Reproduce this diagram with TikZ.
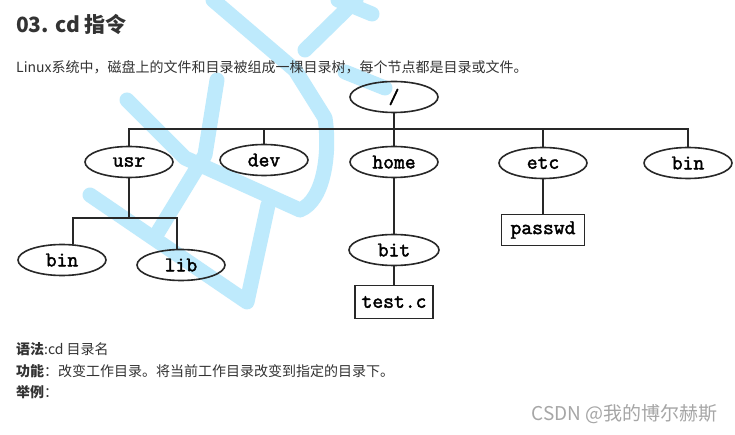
\documentclass[tikz,border=0pt]{standalone}
\usepackage{fontspec}
\setmainfont{Noto Sans CJK SC}
\newfontfamily\treefont{Latin Modern Mono}[FakeBold=2]
\usetikzlibrary{shapes.geometric,positioning}
\definecolor{wmblue}{RGB}{190,234,252}
\definecolor{inkgray}{RGB}{40,40,40}
\definecolor{bodytext}{RGB}{51,51,51}

\begin{document}
\begin{tikzpicture}[
  x=1pt, y=1pt,
  body/.style={anchor=base west, inner sep=0pt, text=bodytext, font=\fontsize{14}{17}\selectfont},
  wm/.style={draw=wmblue, line width=15pt, line cap=round, line join=round},
  dirnode/.style={ellipse, draw=inkgray, line width=1.6pt, minimum width=88pt,
                  minimum height=31pt, inner sep=0pt, font=\treefont\fontsize{21}{24}\selectfont},
  filebox/.style={rectangle, draw=inkgray, line width=1.6pt, minimum width=80pt,
                  minimum height=32pt, inner sep=0pt, font=\treefont\fontsize{21}{24}\selectfont},
  tline/.style={draw=inkgray, line width=1.7pt}
]
\useasboundingbox[fill=white] (0,0) rectangle (735,-435);

% watermark
\draw[wm] (127,-100) -- (185,-158) -- (300,-210) .. controls (325,-200) and (330,-150) .. (325,-118)
  -- (295,-70) -- (213,0);
\draw[wm] (217,-80) -- (205,-155) -- (155,-237);
\draw[wm] (90,-195) -- (247,-302) -- (268,-205);
\draw[wm] (356,0) -- (305,-50);
\draw[wm] (338,0) -- (372,-14);
\draw[wm] (345,-72) -- (385,-88);

% text
\node[body, font=\bfseries\fontsize{21}{25}\selectfont] (title) at (16,-33) {03. cd 指令};
\node[body] (intro) at (16,-73) {Linux系统中，磁盘上的文件和目录被组成一棵目录树，每个节点都是目录或文件。};
\node[body] (syntax) at (16,-354) {\textbf{语法}:cd 目录名};
\node[body] (func) at (16,-376) {\textbf{功能}：改变工作目录。将当前工作目录改变到指定的目录下。};
\node[body] (example) at (16,-397) {\textbf{举例}：};
\node[anchor=base east, inner sep=0pt, text=black!35, font=\fontsize{19}{22}\selectfont] (csdn) at (718,-420) {CSDN @我的博尔赫斯};

% tree
\node[dirnode] (root) at (394,-97) {/};
\node[dirnode] (usr) at (129,-162) {usr};
\node[dirnode] (dev) at (264,-160) {dev};
\node[dirnode] (home) at (394,-162) {home};
\node[dirnode] (etc) at (543,-163) {etc};
\node[dirnode] (bin) at (688,-163) {bin};
\node[dirnode] (ubin) at (62,-260) {bin};
\node[dirnode] (lib) at (181,-265) {lib};
\node[dirnode, minimum width=90pt] (bit) at (394,-250) {bit};
\node[filebox, minimum width=78pt, minimum height=33pt] (testc) at (394,-302) {test.c};
\node[filebox, minimum width=83pt, minimum height=31pt] (passwd) at (543,-230) {passwd};

\draw[tline] (root.south) -- ++(0,-15.5) -| (usr.north);
\draw[tline] (root.south) -- ++(0,-15.5) -| (dev.north);
\draw[tline] (root.south) -- (home.north);
\draw[tline] (root.south) -- ++(0,-15.5) -| (etc.north);
\draw[tline] (root.south) -- ++(0,-15.5) -| (bin.north);
\draw[tline] (usr.south) -- ++(0,-40) -| (ubin.55);
\draw[tline] (usr.south) -- ++(0,-40) -| (lib.105);
\draw[tline] (home.south) -- (bit.north);
\draw[tline] (bit.south) -- (testc.north);
\draw[tline] (etc.south) -- (passwd.north);
\end{tikzpicture}
\end{document}
